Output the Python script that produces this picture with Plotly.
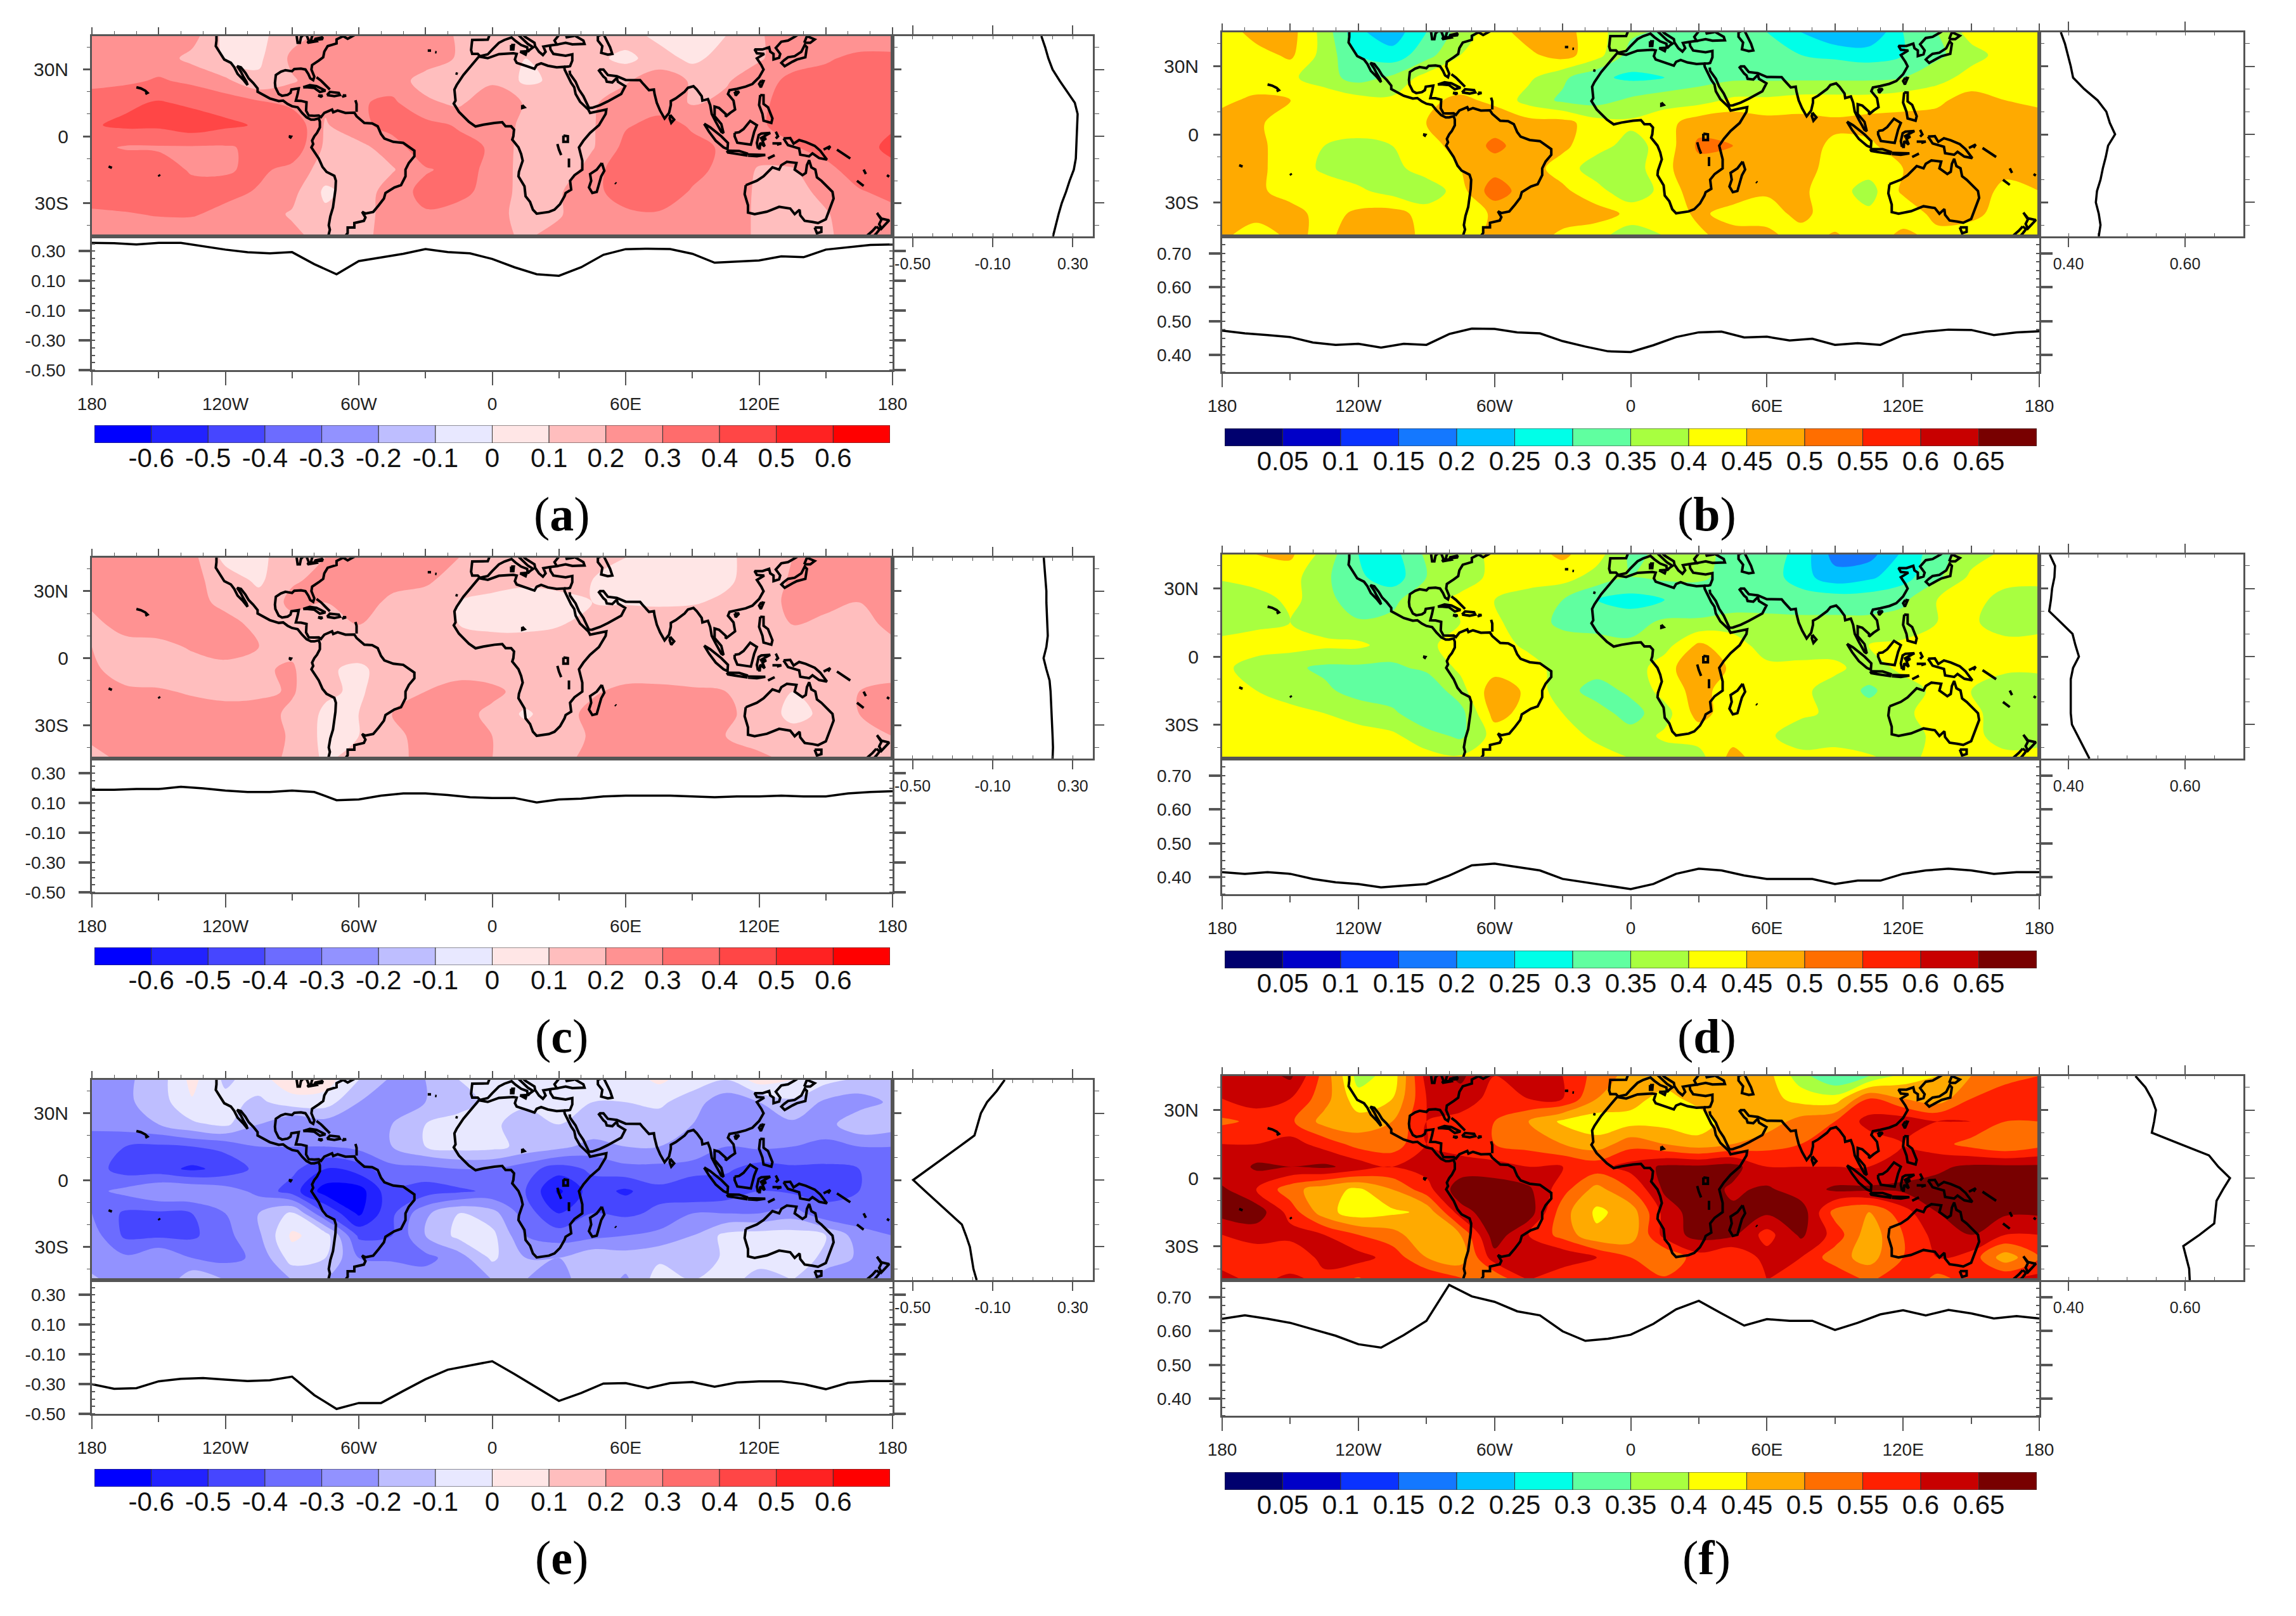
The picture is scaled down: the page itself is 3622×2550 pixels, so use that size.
"""Six-panel map figure: filled contours with zonal and meridional mean curves."""
import plotly.graph_objects as go

W, H = 3622, 2550

LONS = list(range(-180, 181, 15))
LATS = list(range(45, -46, -10))
LON_LINE = list(range(-180, 181, 10))
LAT_LINE = list(range(45, -46, -5))

BLUE_RED = ['#0000ff', '#2222ff', '#4646ff', '#6c6cff', '#9292ff', '#bebeff', '#e8e8ff',
            '#ffe6e6', '#ffbebe', '#ff9292', '#ff6c6c', '#ff4646', '#ff2222', '#ff0000']
JET = ['#00006e', '#0000c8', '#0a32ff', '#1478ff', '#00c0ff', '#00ffe8', '#60ffa0',
       '#a8ff40', '#ffff00', '#ffaa00', '#ff6e00', '#ff2000', '#c80000', '#780000']
LEVELS_DIFF = [-0.6, -0.5, -0.4, -0.3, -0.2, -0.1, 0, 0.1, 0.2, 0.3, 0.4, 0.5, 0.6]
LEVEL_LABELS_DIFF = ['-0.6', '-0.5', '-0.4', '-0.3', '-0.2', '-0.1', '0', '0.1', '0.2', '0.3', '0.4', '0.5', '0.6']
LEVELS_ABS = [0.05, 0.1, 0.15, 0.2, 0.25, 0.3, 0.35, 0.4, 0.45, 0.5, 0.55, 0.6, 0.65]
LEVEL_LABELS_ABS = ['0.05', '0.1', '0.15', '0.2', '0.25', '0.3', '0.35', '0.4', '0.45', '0.5', '0.55', '0.6', '0.65']

FIELD_A = [
    [.24, .24, .24, .24, .07, .07, .17, .22, .25, .25, .25, .19, .15, .15, .15, .15, .15, .07, .06, .1, .19, .25, .25, .25, .25],
    [.25, .25, .25, .17, .09, .08, .22, .24, .27, .27, .25, .19, .15, .1, .1, .13, .07, .15, .07, .15, .19, .25, .29, .32, .32],
    [.27, .28, .31, .28, .22, .12, .19, .25, .25, .25, .16, .17, .18, .08, .12, .17, .19, .25, .19, .19, .25, .33, .33, .34, .33],
    [.35, .38, .41, .38, .36, .32, .27, .22, .29, .32, .22, .18, .28, .19, .19, .19, .24, .26, .19, .22, .28, .34, .36, .37, .37],
    [.39, .42, .42, .46, .42, .39, .38, .19, .27, .34, .33, .29, .27, .17, .17, .19, .29, .33, .29, .25, .29, .33, .36, .38, .39],
    [.33, .29, .29, .29, .29, .32, .37, .18, .17, .25, .37, .33, .29, .15, .12, .19, .33, .36, .32, .29, .25, .29, .34, .37, .42],
    [.39, .38, .34, .29, .29, .32, .27, .15, .15, .19, .29, .33, .28, .15, .12, .25, .38, .39, .33, .27, .19, .19, .27, .35, .38],
    [.39, .38, .36, .33, .33, .29, .23, .08, .14, .25, .33, .33, .26, .16, .19, .27, .35, .36, .29, .27, .18, .16, .23, .29, .33],
    [.27, .29, .31, .31, .27, .24, .19, .12, .17, .23, .29, .26, .24, .16, .19, .27, .28, .29, .25, .23, .19, .15, .19, .27, .27],
    [.22, .22, .22, .23, .23, .23, .22, .17, .17, .24, .25, .23, .22, .19, .23, .23, .22, .23, .23, .23, .19, .18, .19, .23, .23],
]
FIELD_B = [
    [.42, .47, .47, .38, .26, .22, .3, .37, .43, .47, .47, .42, .36, .34, .34, .32, .3, .25, .2, .2, .3, .35, .42, .43, .43],
    [.42, .43, .46, .38, .3, .27, .33, .4, .42, .44, .47, .42, .33, .33, .33, .34, .32, .3, .29, .28, .3, .34, .38, .42, .43],
    [.42, .42, .41, .37, .33, .36, .42, .42, .42, .41, .36, .31, .29, .3, .33, .34, .34, .34, .34, .34, .35, .38, .42, .43, .43],
    [.44, .46, .45, .44, .42, .41, .44, .46, .44, .38, .34, .33, .36, .38, .38, .41, .41, .42, .42, .42, .43, .44, .47, .45, .44],
    [.47, .46, .42, .41, .42, .42, .45, .5, .48, .47, .47, .42, .41, .43, .48, .49, .47, .47, .46, .47, .47, .47, .47, .47, .47],
    [.47, .46, .43, .4, .39, .4, .43, .47, .51, .48, .46, .42, .38, .42, .51, .5, .47, .47, .44, .44, .48, .47, .47, .47, .47],
    [.47, .46, .43, .39, .37, .38, .43, .45, .48, .47, .43, .37, .37, .44, .48, .48, .47, .47, .43, .42, .45, .47, .47, .46, .46],
    [.45, .46, .43, .43, .41, .38, .36, .43, .53, .47, .46, .42, .36, .42, .48, .48, .46, .46, .42, .38, .46, .47, .47, .44, .45],
    [.46, .47, .47, .43, .46, .47, .43, .41, .46, .47, .47, .47, .44, .42, .46, .43, .42, .47, .41, .41, .41, .47, .47, .42, .42],
    [.46, .42, .46, .44, .47, .47, .44, .42, .47, .47, .44, .42, .36, .4, .44, .47, .47, .42, .46, .41, .47, .43, .41, .41, .42],
]
FIELD_C = [
    [.23, .23, .23, .23, .07, .07, .17, .2, .22, .22, .22, .2, .16, .15, .13, .14, .1, .07, .07, .08, .14, .2, .22, .24, .22],
    [.23, .23, .23, .23, .15, .08, .19, .22, .23, .23, .22, .15, .14, .12, .12, .1, .07, .07, .08, .08, .15, .21, .22, .24, .22],
    [.22, .24, .25, .24, .17, .14, .22, .2, .24, .18, .15, .1, .07, .06, .08, .1, .09, .08, .09, .12, .16, .22, .21, .2, .23],
    [.17, .24, .25, .25, .24, .17, .17, .19, .2, .17, .16, .1, .07, .07, .09, .17, .17, .18, .17, .17, .17, .2, .19, .17, .22],
    [.2, .16, .17, .21, .24, .2, .18, .15, .18, .17, .18, .17, .16, .16, .17, .17, .17, .17, .17, .17, .17, .17, .18, .18, .18],
    [.22, .15, .15, .16, .17, .19, .21, .12, .07, .17, .18, .18, .16, .17, .16, .16, .16, .16, .16, .16, .15, .16, .17, .17, .17],
    [.23, .22, .21, .19, .17, .18, .21, .12, .08, .18, .2, .22, .22, .17, .16, .19, .22, .22, .21, .2, .16, .1, .15, .2, .22],
    [.24, .24, .24, .24, .24, .24, .18, .08, .1, .2, .24, .23, .18, .08, .17, .22, .24, .24, .24, .22, .16, .07, .12, .2, .24],
    [.22, .24, .24, .24, .24, .24, .19, .07, .1, .17, .24, .23, .2, .16, .16, .21, .24, .24, .24, .2, .16, .14, .16, .16, .2],
    [.17, .22, .22, .22, .22, .22, .19, .08, .15, .18, .22, .23, .2, .18, .18, .22, .22, .22, .22, .22, .22, .18, .14, .12, .16],
]
FIELD_D = [
    [.41, .45, .46, .38, .3, .28, .36, .38, .41, .43, .46, .42, .34, .36, .36, .34, .33, .28, .18, .18, .26, .33, .38, .41, .41],
    [.41, .42, .42, .36, .31, .27, .35, .38, .41, .42, .42, .38, .35, .36, .36, .33, .33, .27, .22, .24, .28, .34, .41, .42, .42],
    [.35, .38, .41, .38, .3, .34, .38, .41, .4, .38, .35, .3, .28, .3, .31, .31, .32, .33, .33, .33, .34, .4, .42, .38, .37],
    [.37, .39, .4, .38, .36, .36, .37, .4, .41, .37, .34, .33, .33, .36, .36, .38, .37, .36, .36, .36, .37, .4, .41, .37, .38],
    [.42, .42, .42, .41, .41, .38, .39, .42, .42, .39, .37, .37, .36, .38, .46, .42, .38, .38, .38, .4, .41, .42, .42, .42, .42],
    [.41, .38, .36, .34, .34, .34, .36, .41, .43, .42, .38, .37, .37, .43, .49, .44, .41, .41, .41, .38, .41, .41, .41, .41, .41],
    [.41, .4, .37, .36, .33, .32, .31, .38, .48, .44, .37, .33, .36, .42, .47, .42, .41, .41, .38, .34, .38, .41, .4, .37, .37],
    [.43, .43, .42, .4, .38, .36, .31, .33, .47, .43, .4, .37, .33, .38, .47, .42, .42, .41, .39, .37, .39, .42, .41, .38, .37],
    [.43, .43, .43, .43, .42, .41, .37, .34, .42, .43, .42, .39, .37, .41, .42, .43, .41, .37, .38, .36, .38, .41, .42, .37, .37],
    [.44, .43, .43, .43, .43, .43, .42, .41, .43, .43, .43, .42, .4, .37, .38, .47, .42, .42, .42, .41, .38, .42, .42, .42, .43],
]
FIELD_E = [
    [-.2, -.22, -.15, .03, -.12, -.05, .08, .05, -.1, -.22, -.2, -.1, -.1, -.1, -.07, -.08, -.05, .02, -.05, -.1, .05, 0, -.07, -.12, -.15],
    [-.2, -.22, -.15, -.01, -.07, -.12, -.05, -.05, -.2, -.25, -.2, -.13, -.08, -.08, -.1, -.1, -.1, -.08, -.15, -.27, -.2, -.12, -.22, -.25, -.18],
    [-.27, -.25, -.2, -.12, -.08, -.2, -.3, -.25, -.25, -.2, -.1, -.07, -.08, -.15, -.1, -.12, -.18, -.15, -.2, -.3, -.22, -.22, -.24, -.12, -.15],
    [-.37, -.4, -.42, -.4, -.37, -.3, -.3, -.3, -.27, -.2, -.1, -.06, -.07, -.13, -.17, -.24, -.2, -.2, -.22, -.3, -.28, -.3, -.33, -.3, -.3],
    [-.35, -.45, -.46, -.52, -.47, -.37, -.37, -.5, -.45, -.33, -.33, -.3, -.3, -.36, -.45, -.38, -.33, -.33, -.35, -.38, -.45, -.42, -.42, -.4, -.37],
    [-.33, -.27, -.2, -.2, -.25, -.33, -.45, -.65, -.65, -.42, -.45, -.42, -.38, -.4, -.62, -.45, -.52, -.43, -.5, -.47, -.4, -.42, -.42, -.4, -.35],
    [-.3, -.42, -.42, -.4, -.3, -.2, -.08, -.4, -.62, -.42, -.22, -.1, -.16, -.35, -.5, -.4, -.42, -.38, -.3, -.3, -.3, -.25, -.38, -.38, -.4],
    [-.25, -.42, -.42, -.42, -.33, -.22, .02, -.05, -.42, -.4, -.2, -.07, -.07, -.3, -.35, -.33, -.3, -.27, -.2, -.07, -.05, -.05, -.1, -.25, -.3],
    [-.25, -.28, -.2, -.3, -.33, -.28, -.05, -.1, -.3, -.32, -.33, -.25, -.08, -.2, -.2, -.12, -.15, -.12, -.18, -.08, -.05, -.05, -.12, -.22, -.2],
    [-.18, -.25, -.3, -.12, -.2, -.25, -.2, -.2, -.23, -.2, -.25, -.25, -.2, -.2, -.25, -.12, -.22, -.05, -.1, -.05, -.15, -.1, -.28, -.25, -.2],
]
FIELD_F = [
    [.6, .62, .66, .53, .38, .42, .62, .66, .6, .64, .6, .53, .48, .48, .48, .47, .47, .37, .3, .35, .42, .45, .5, .52, .55],
    [.6, .63, .6, .52, .42, .45, .6, .63, .58, .6, .6, .5, .47, .43, .47, .5, .47, .43, .42, .55, .5, .47, .55, .6, .6],
    [.54, .56, .56, .48, .47, .5, .6, .58, .55, .5, .44, .42, .43, .43, .42, .48, .47, .52, .55, .62, .63, .6, .6, .55, .55],
    [.6, .6, .62, .58, .53, .52, .6, .58, .55, .53, .5, .47, .53, .5, .47, .5, .53, .55, .56, .57, .6, .57, .53, .5, .53],
    [.6, .66, .65, .66, .63, .6, .62, .62, .62, .6, .6, .58, .62, .66, .66, .67, .6, .6, .6, .6, .63, .64, .66, .66, .66],
    [.66, .6, .52, .47, .44, .5, .58, .68, .68, .66, .57, .48, .55, .66, .68, .64, .66, .62, .66, .66, .66, .67, .67, .67, .67],
    [.67, .68, .58, .47, .42, .44, .46, .63, .68, .68, .52, .44, .47, .62, .68, .66, .66, .68, .53, .5, .58, .65, .65, .66, .66],
    [.6, .62, .62, .6, .55, .52, .46, .5, .68, .6, .53, .46, .47, .62, .67, .66, .58, .66, .58, .47, .55, .62, .65, .6, .6],
    [.56, .57, .55, .62, .62, .58, .5, .47, .63, .6, .64, .6, .55, .5, .58, .55, .62, .6, .52, .48, .55, .6, .58, .47, .55],
    [.63, .58, .62, .58, .54, .6, .6, .56, .5, .6, .55, .57, .6, .56, .6, .56, .6, .58, .6, .54, .6, .53, .57, .6, .62],
]

# mean over latitude, one value per LON_LINE
LON_MEAN_A = [.356, .354, .346, .356, .356, .332, .311, .293, .286, .294, .213, .145, .234, .258, .283, .315, .294, .286, .248,
              .192, .145, .135, .192, .276, .314, .317, .315, .283, .223, .23, .238, .266, .26, .311, .325, .342, .346]
LON_MEAN_B = [.472, .464, .459, .453, .437, .43, .433, .422, .433, .43, .462, .478, .477, .467, .464, .441, .425, .411, .409,
              .429, .453, .467, .469, .452, .454, .443, .448, .43, .435, .43, .459, .469, .475, .474, .459, .467, .47]
LON_MEAN_C = [.19, .19, .195, .195, .21, .2, .185, .175, .175, .185, .175, .12, .125, .15, .165, .165, .155, .14, .135,
              .135, .105, .125, .13, .145, .15, .15, .15, .145, .14, .145, .145, .15, .145, .145, .165, .175, .18]
LON_MEAN_D = [.415, .41, .415, .41, .395, .385, .38, .37, .375, .38, .405, .435, .44, .43, .42, .395, .385, .375, .365,
              .38, .41, .425, .42, .405, .395, .395, .395, .38, .39, .39, .41, .42, .425, .42, .41, .415, .415]
LON_MEAN_E = [-.3, -.331, -.327, -.281, -.264, -.259, -.27, -.279, -.274, -.25, -.374, -.467, -.427, -.427, -.346, -.267, -.203, -.175, -.146,
              -.232, -.324, -.413, -.36, -.296, -.293, -.327, -.293, -.286, -.317, -.289, -.281, -.281, -.3, -.334, -.291, -.279, -.279]
LON_MEAN_F = [.636, .646, .636, .624, .605, .586, .561, .551, .588, .63, .736, .702, .686, .658, .646, .599, .571, .577, .589,
              .621, .664, .689, .652, .616, .635, .63, .63, .603, .624, .649, .661, .646, .662, .652, .637, .644, .637]

# mean over longitude, one value per LAT_LINE
LAT_MEAN_A = [.143, .162, .178, .199, .234, .273, .31, .324, .322, .32, .318, .315, .305, .284, .266, .245, .229, .215, .201]
LAT_MEAN_B = [.387, .394, .399, .404, .408, .427, .45, .465, .471, .48, .468, .464, .459, .455, .449, .447, .452, .455, .452]
LAT_MEAN_C = [.155, .16, .165, .168, .168, .171, .173, .175, .168, .154, .168, .184, .189, .192, .194, .196, .199, .201, .199]
LAT_MEAN_D = [.368, .377, .376, .372, .37, .367, .387, .407, .412, .418, .408, .404, .404, .404, .404, .406, .416, .427, .436]
LAT_MEAN_E = [-.04, -.08, -.128, -.159, -.175, -.191, -.267, -.344, -.42, -.497, -.437, -.376, -.314, -.254, -.233, -.214, -.205, -.196, -.18]
LAT_MEAN_F = [.515, .532, .543, .55, .547, .543, .592, .641, .657, .677, .665, .654, .652, .65, .625, .597, .602, .607, .608]

# simplified coastlines as (lon, lat) runs
COAST = [
    [(-124, 46), (-124, 43), (-124.3, 40.5), (-122.5, 37.5), (-120.5, 34.5), (-117.5, 33), (-116, 31), (-114.5, 28), (-112, 25.5), (-110, 23),
     (-110.5, 24.5), (-112, 27), (-113, 29), (-114.7, 31.5), (-113, 31), (-111, 28.5), (-109.5, 26), (-107.5, 24), (-105.5, 21.5), (-105.5, 20),
     (-103, 18.5), (-100, 17), (-96, 15.8), (-94, 16), (-92, 14.5), (-90, 13.5), (-87.5, 13), (-85.5, 10.5), (-83.5, 8.5), (-81.5, 7.5), (-80, 7.5),
     (-78, 8), (-77.5, 6.5), (-77.5, 4), (-78.8, 1.5), (-80, 0), (-81, -2), (-80.5, -3.5), (-81.3, -5), (-79.5, -7.5), (-78, -10), (-76.3, -13.8),
     (-74.5, -16), (-71, -17.8), (-70.3, -20), (-70.5, -24), (-71, -28), (-71.6, -32), (-72.8, -36), (-73.5, -40), (-73, -42), (-74, -45), (-74, -46)],
    [(-61, 46), (-65, 43.8), (-67, 45), (-70, 43.5), (-70, 41.7), (-74, 40.5), (-75.5, 38), (-76, 35.5), (-78, 34), (-81, 32), (-81.3, 30), (-80, 26.8),
     (-80.5, 25.2), (-81.8, 26), (-82.7, 28), (-84, 30), (-86, 30.4), (-89, 30.2), (-90, 29.2), (-93, 29.7), (-95, 29), (-97.3, 27.5), (-97.7, 24),
     (-97.5, 22), (-96, 19), (-94.5, 18.2), (-92, 18.6), (-90.7, 19.5), (-90.3, 21), (-87, 21.5), (-87.5, 19), (-88.3, 16), (-86, 15.9), (-83.5, 15.3),
     (-83.7, 11.5), (-82.5, 9.3), (-80, 9.2), (-78, 9.3), (-77, 8.6), (-75.5, 10.5), (-72, 12), (-71.5, 10.8), (-69.5, 11.6), (-66, 10.5), (-62, 10.6),
     (-61, 9), (-57.5, 6), (-54, 5.8), (-51.5, 4.5), (-50, 1), (-48.5, -1), (-44.5, -2.5), (-40, -3), (-37, -5), (-35, -6.5), (-35, -9), (-37.5, -12),
     (-39, -15), (-39, -18), (-41, -22), (-44, -23), (-48, -25.5), (-48.7, -28), (-51, -31), (-53.5, -34), (-57, -34.7), (-58.5, -34), (-57, -36.5),
     (-57.7, -38), (-62, -39), (-62, -41), (-65, -41), (-65, -43.5), (-67, -46)],
    [(-88, 45.5), (-87.5, 42), (-86.5, 42), (-86, 44.5), (-85, 45.5), (-83.5, 45.5), (-82.5, 43), (-83, 42), (-79, 42.7), (-79.5, 43.3), (-76.5, 43.7),
     (-76.2, 44.5), (-79.5, 43.8), (-80, 42.8), (-81.5, 43), (-81, 45), (-80, 46)],
    [(-85, 22), (-82, 23), (-79, 22.5), (-75, 20.5), (-77.5, 19.9), (-80, 21.7), (-83, 22), (-85, 22)],
    [(-74.3, 18.5), (-73, 19.9), (-69, 19.5), (-68.5, 18.5), (-71, 18), (-74.3, 18.5)],
    [(-78.3, 18.3), (-76.3, 18.2), (-77, 17.8), (-78.3, 18.3)],
    [(-67.2, 18.4), (-65.7, 18.3), (-67, 17.9), (-67.2, 18.4)],
    [(-79, 26.5), (-77, 25), (-75, 23), (-73, 21)],
    [(-61.5, 16.2), (-61, 14.5), (-61, 11)],
    [(-160, 22), (-158, 21.5), (-156, 20.5), (-155, 19.5), (-156, 19)],
    [(-91.5, 0), (-90.5, -0.2), (-91, -1)],
    [(-172.5, -13.6), (-171, -14.2)],
    [(-150, -17.3), (-149.5, -18)],
    [(-29, 38.5), (-27.5, 38.5)],
    [(-25.7, 37.8), (-25, 37.7)],
    [(-16.5, 28.3), (-15.5, 28)],
    [(-6, 35.8), (-10, 31), (-13, 27.5), (-16, 23), (-17, 21), (-16.5, 16), (-17.3, 14.7), (-15, 11), (-13, 9), (-10.5, 6.5), (-7.5, 4.4), (-4, 5.2),
     (1, 6), (4.5, 6.3), (6, 4.5), (8.5, 4.5), (9.8, 3), (9.5, 0), (9, -1.5), (11.8, -5), (13, -8), (13.7, -11), (12, -16), (11.8, -18), (14.5, -22.5),
     (15, -27), (17, -29.5), (18.3, -33), (20, -34.8), (25.5, -34), (28, -33), (30.5, -30.5), (32.5, -27), (33, -25.5), (35.5, -24), (35, -20),
     (37, -17.5), (40.5, -15), (40.5, -11), (39.5, -7), (39, -5), (41, -2), (44, 1.5), (48, 5), (51, 10), (51.3, 12), (47, 11), (44, 10.5), (43.2, 12),
     (39.5, 15.5), (37.5, 19), (36.9, 22), (35.5, 24), (33.8, 27.5), (32.6, 29.9), (32.4, 31.2), (29, 31), (25, 31.7), (22, 32.8), (20, 32), (19, 30.3),
     (15.5, 31.5), (11, 33), (10.2, 34.5), (11, 37), (9.5, 37.3), (3, 36.9), (-2, 35.1), (-6, 35.8)],
    [(-1, 46), (-2, 43.4), (-9, 43.3), (-9.5, 38.7), (-9, 37), (-6.5, 37), (-5.5, 36), (-2, 36.8), (0, 39), (3, 42), (5.5, 43.3), (8.7, 44.4), (10.5, 42.8),
     (13, 41), (15.7, 40), (16, 38), (17, 39), (18.4, 40), (16, 41.5), (13.7, 43.5), (12.3, 45), (13.6, 45.8), (15, 44.5), (19, 42), (19.3, 40.5), (21, 38),
     (22.8, 36.5), (24, 38), (23, 40.3), (26, 40.8), (29, 41.2), (28, 43), (30, 45.5), (33, 46), (33.5, 44.5), (36.5, 45), (38, 47)],
    [(29, 41.2), (33, 42), (36, 41.3), (41.5, 41.5), (41, 43), (37.5, 45), (38, 46)],
    [(26, 40.4), (26.2, 39), (27.5, 37), (30.5, 36.5), (33, 36.2), (36, 36.8), (36, 34), (35, 31.5), (34.2, 31.3), (32.4, 31.2)],
    [(8.5, 41), (9.7, 41), (9.5, 39), (8.5, 39), (8.5, 41)],
    [(12.5, 38), (15.5, 38.2), (15, 36.7), (12.5, 38)],
    [(47.5, 45), (47.5, 43), (49.5, 40.5), (49, 37.5), (52, 36.7), (54, 37), (53, 40), (51, 44.5), (50, 46), (47.5, 45)],
    [(34.8, 29.5), (35, 28), (37.5, 24.5), (39, 21), (41, 18), (43, 14), (43.5, 12.7), (45, 12.8), (48.5, 14), (52, 15.7), (55, 17.2), (58, 19), (59.8, 22.5),
     (56.5, 24.5), (56, 26.2), (54, 24.2), (51.5, 24.5), (51, 26), (50, 26.8), (48, 29.5), (48.5, 30), (50, 30), (52, 27.5), (56, 27), (60, 25.3), (66.5, 25.2),
     (67.5, 24), (69, 22.5), (70.5, 20.7), (72.7, 21), (73, 19), (74, 15), (75.5, 11.5), (77.5, 8), (79.5, 10.5), (80.3, 14), (80.3, 15.8), (82.5, 17), (86.5, 20),
     (88, 21.8), (90.5, 22.5), (92, 21), (94.2, 18), (94.5, 16), (97, 16.7), (98, 14), (98.7, 10), (100.5, 6.5), (103, 2), (104, 1.4), (103.5, 4), (103, 5.5),
     (100, 9), (100, 13.3), (102, 12.7), (105, 10), (105, 8.8), (107, 10.5), (109.2, 12), (108.5, 16), (106, 19), (106.7, 20.7), (110, 21.3), (114, 22.3),
     (117, 23.5), (120, 26.5), (122, 30), (121, 32), (119, 35), (122.3, 37), (119, 37.3), (118, 39), (121.5, 39), (124.5, 40), (125, 38), (126.5, 37),
     (126.5, 34.5), (129, 35.3), (129.5, 37), (127.5, 39.7), (130, 42.5), (133, 43), (136, 44.7), (138, 46)],
    [(80, 9.6), (81.8, 7.5), (80.5, 6), (79.8, 8), (80, 9.6)],
    [(109, 20), (111, 20), (109.5, 18.3), (109, 20)],
    [(131, 34), (133, 35.5), (136, 36), (139, 38), (140.5, 41), (141.5, 40), (140.8, 35.5), (137, 34.5), (135, 33.5), (131.5, 31.5), (130, 33), (131, 34)],
    [(140.3, 42), (141.5, 45), (145, 43.5), (143, 42), (141, 42), (140.3, 42)],
    [(121, 25), (122, 24.8), (120.8, 22), (120, 23.5), (121, 25)],
    [(120.5, 18.5), (122, 18.4), (122, 14.5), (124, 13), (126, 8), (125.5, 6), (122, 7), (121.5, 10), (120, 14), (120.5, 18.5)],
    [(109, 1.5), (111, 1.8), (113, 3.2), (116, 6.9), (119, 5), (117.8, 2), (116.3, -3.8), (114, -3.4), (110.2, -2.9), (109, 0), (109, 1.5)],
    [(95.3, 5.6), (98, 4), (103, 0), (106, -3), (105.8, -5.8), (104, -5), (100.5, -2), (97.5, 2), (95.3, 5.6)],
    [(105.5, -6.5), (108.5, -6.5), (111, -6.6), (114.5, -7.7), (114.3, -8.6), (109, -7.8), (106, -7.3), (105.5, -6.5)],
    [(115, -8.2), (119, -8.4), (122.8, -8.4), (119, -9), (115, -8.7)],
    [(119.5, -5.5), (119, -3), (119.8, 0.5), (121, 1.2), (125, 1.5), (122, 0), (120.5, -1), (123.2, -1), (121.5, -2), (122.5, -4.5), (120.5, -3), (120.3, -5.5), (119.5, -5.5)],
    [(127.5, 2), (128.5, 0), (127.5, -1)],
    [(126, -3.2), (130, -3.2), (128, -3.8)],
    [(131, -1), (134, -0.8), (135.5, -3.3), (138, -1.7), (141, -2.6), (145, -4.3), (147.5, -6.5), (150.5, -10.5), (147, -9.8), (144, -7.7), (142.5, -9), (138.5, -8.3),
     (138, -5.5), (133, -4), (132, -2.5), (131, -1)],
    [(124, -10), (127, -8.5), (125, -9.2), (124, -10)],
    [(149, -6), (152, -4.5), (151, -6)],
    [(155, -6), (158, -8), (161, -10)],
    [(167, -15), (168, -17)],
    [(164, -20), (167, -22.3)],
    [(177.5, -17.5), (178.5, -18.2)],
    [(114, -22), (113.5, -26), (115, -31), (115, -34.3), (118, -35), (123.5, -33.9), (129, -31.7), (134, -32.5), (136, -35), (138.2, -33), (138.5, -35.5), (140.5, -38),
     (144, -38.5), (146.5, -39), (150, -37.3), (151.5, -33), (153.5, -28), (153, -25), (150.5, -22.5), (148, -20), (146, -18.5), (145.3, -15), (143.5, -14), (142.5, -10.8),
     (141.5, -13), (141, -16.5), (139.5, -17.5), (136, -15), (136.8, -12), (132.5, -11.5), (130, -13), (129, -15), (126, -14), (122, -18), (119, -20), (114, -22)],
    [(145, -41), (148, -41), (148, -43), (146, -43.6), (145, -41)],
    [(173, -34.5), (175, -37), (178.5, -37.8), (177, -39.5), (175, -41.5), (174, -39.5), (175, -37.5), (173, -34.5)],
    [(172.7, -40.6), (174.2, -41.8), (172.7, -43.7), (170.5, -46), (167, -46), (171, -42.5), (172.7, -40.6)],
    [(49.3, -12), (50.4, -15.5), (49, -18), (47.5, -24), (47, -25), (45, -25.5), (43.5, -23), (44.5, -20), (44, -17), (47, -15), (49.3, -12)],
    [(55.3, -20.9), (55.7, -21.3)],
    [(13.5, 14), (14.5, 13), (13.5, 12.7), (13.5, 14)],
    [(32, 0.3), (34, 0), (34, -2.5), (32, -2.5), (32, 0.3)],
    [(29.3, -3.5), (30, -6), (31, -8.5)],
    [(34.5, -10), (34.5, -14)],
]

PANELS = [
    dict(field=FIELD_A, lon_mean=LON_MEAN_A, lat_mean=LAT_MEAN_A, kind='diff', col=0, top=57, bot=373, tag='a'),
    dict(field=FIELD_B, lon_mean=LON_MEAN_B, lat_mean=LAT_MEAN_B, kind='abs', col=1, top=51, bot=373, tag='b'),
    dict(field=FIELD_C, lon_mean=LON_MEAN_C, lat_mean=LAT_MEAN_C, kind='diff', col=0, top=880, bot=1197, tag='c'),
    dict(field=FIELD_D, lon_mean=LON_MEAN_D, lat_mean=LAT_MEAN_D, kind='abs', col=1, top=875, bot=1197, tag='d'),
    dict(field=FIELD_E, lon_mean=LON_MEAN_E, lat_mean=LAT_MEAN_E, kind='diff', col=0, top=1704, bot=2020, tag='e'),
    dict(field=FIELD_F, lon_mean=LON_MEAN_F, lat_mean=LAT_MEAN_F, kind='abs', col=1, top=1698, bot=2020, tag='f'),
]

COLS = [
    dict(x0=145, x1=1408, side=1724, line_h=211, cb_x0=149, cb_x1=1404, cb_dy=298, label_x=886, y_standoff=15),
    dict(x0=1928, x1=3217, side=3539, line_h=214, cb_x0=1932, cb_x1=3213, cb_dy=303, label_x=2692, y_standoff=22),
]
KINDS = {
    'diff': dict(colors=BLUE_RED, levels=LEVELS_DIFF, labels=LEVEL_LABELS_DIFF, line_range=[-0.5, 0.4], line_ticks=[-0.5, -0.3, -0.1, 0.1, 0.3],
                 line_minor=0.05, side_range=[-0.6, 0.4], side_ticks=[-0.5, -0.1, 0.3], side_minor=0.1),
    'abs': dict(colors=JET, levels=LEVELS_ABS, labels=LEVEL_LABELS_ABS, line_range=[0.35, 0.75], line_ticks=[0.4, 0.5, 0.6, 0.7],
                line_minor=0.025, side_range=[0.35, 0.70], side_ticks=[0.4, 0.6], side_minor=0.05),
}

AXIS_COLOR = '#555555'
FONT = 'Liberation Sans'


def fill_scale(colors):
    # band k of a filled contour lands on stop k/n
    n = len(colors) - 1
    return [[k / n, col] for k, col in enumerate(colors)]


def steps(lo, hi, step):
    out, v = [], lo
    while v <= hi + 1e-9:
        out.append(round(v, 4))
        v += step
    return out


def coast_xy():
    xs, ys = [], []
    for run in COAST:
        for lon, lat in run:
            xs.append(lon)
            ys.append(lat)
        xs.append(None)
        ys.append(None)
    return xs, ys


def dom_x(a, b):
    return [a / W, b / W]


def dom_y(top, bottom):
    return [1 - bottom / H, 1 - top / H]


fig = go.Figure()
layout = {}
coast_x, coast_y = coast_xy()
n_axis = 0


def new_axes(xdom, ydom, xaxis, yaxis):
    global n_axis
    n_axis += 1
    xa, ya = f'x{n_axis}', f'y{n_axis}'
    layout[f'xaxis{n_axis}'] = dict(domain=xdom, anchor=ya, automargin=False, **xaxis)
    layout[f'yaxis{n_axis}'] = dict(domain=ydom, anchor=xa, automargin=False, **yaxis)
    return xa, ya


LINE_STYLE = dict(showline=True, linecolor=AXIS_COLOR, linewidth=3, showgrid=False, zeroline=False,
                  tickcolor=AXIS_COLOR, color='#222222')

for p in PANELS:
    c = COLS[p['col']]
    k = KINDS[p['kind']]
    line_bot = p['bot'] + c['line_h']
    step = k['levels'][1] - k['levels'][0]

    # map
    xa, ya = new_axes(
        dom_x(c['x0'], c['x1']), dom_y(p['top'], p['bot']),
        dict(range=[-180, 180], side='top', mirror=True, showticklabels=False, ticks='outside', ticklen=11, tickwidth=2,
             tickmode='array', tickvals=steps(-180, 180, 30),
             minor=dict(ticks='outside', ticklen=5, tickwidth=1, tickcolor=AXIS_COLOR, tickmode='array', tickvals=steps(-180, 180, 10)),
             **LINE_STYLE),
        dict(range=[-45, 45], mirror='ticks', ticks='outside', ticklen=11, tickwidth=3, tickmode='array',
             tickvals=[-30, 0, 30], ticktext=['30S', '0', '30N'], tickfont=dict(family=FONT, size=30), ticklabelstandoff=17,
             minor=dict(ticks='outside', ticklen=5, tickwidth=1, tickcolor=AXIS_COLOR, tickmode='array', tickvals=steps(-40, 40, 10)),
             **LINE_STYLE),
    )
    fig.add_trace(go.Contour(
        x=LONS, y=LATS[::-1], z=p['field'][::-1], xaxis=xa, yaxis=ya,
        autocontour=False, colorscale=fill_scale(k['colors']), showscale=False,
        # nudged so that values typed on a level fall in the band above it
        contours=dict(start=k['levels'][0] - 1e-4, end=k['levels'][-1] - 1e-4, size=step,
                      coloring='fill', showlines=False),
        line=dict(width=0), hoverinfo='skip',
    ))
    fig.add_trace(go.Scatter(x=coast_x, y=coast_y, xaxis=xa, yaxis=ya, mode='lines',
                             line=dict(color='black', width=4), hoverinfo='skip'))

    # zonal curve under the map
    xa, ya = new_axes(
        dom_x(c['x0'], c['x1']), dom_y(p['bot'], line_bot),
        dict(range=[-180, 180], mirror=True, ticks='outside', ticklen=21, tickwidth=2, tickmode='array',
             tickvals=[-180, -120, -60, 0, 60, 120, 180], ticktext=['180', '120W', '60W', '0', '60E', '120E', '180'],
             tickfont=dict(family=FONT, size=28), ticklabelstandoff=5,
             minor=dict(ticks='outside', ticklen=10, tickwidth=2, tickcolor=AXIS_COLOR, tickmode='array', tickvals=steps(-150, 150, 30)),
             **LINE_STYLE),
        dict(range=k['line_range'], mirror='ticks', ticks='outside', ticklen=18, tickwidth=4, tickmode='array',
             tickvals=k['line_ticks'], ticktext=[f'{v:.2f}' for v in k['line_ticks']],
             tickfont=dict(family=FONT, size=28), ticklabelstandoff=c['y_standoff'],
             minor=dict(ticks='inside', ticklen=5, tickwidth=2, tickcolor=AXIS_COLOR, tickmode='array',
                        tickvals=steps(k['line_range'][0], k['line_range'][1], k['line_minor'])),
             **LINE_STYLE),
    )
    fig.add_trace(go.Scatter(x=LON_LINE, y=p['lon_mean'], xaxis=xa, yaxis=ya, mode='lines',
                             line=dict(color='black', width=3.5), hoverinfo='skip'))

    # meridional curve beside the map
    xa, ya = new_axes(
        dom_x(c['x1'], c['side']), dom_y(p['top'], p['bot']),
        dict(range=k['side_range'], mirror='ticks', ticks='outside', ticklen=14, tickwidth=2, tickmode='array',
             tickvals=k['side_ticks'], ticktext=[f'{v:.2f}' for v in k['side_ticks']],
             tickfont=dict(family=FONT, size=25), ticklabelstandoff=5,
             minor=dict(ticks='inside', ticklen=5, tickwidth=1, tickcolor=AXIS_COLOR, tickmode='array',
                        tickvals=steps(k['side_range'][0], k['side_range'][1], k['side_minor'])),
             **LINE_STYLE),
        dict(range=[-45, 45], side='right', mirror=True, showticklabels=False, ticks='outside', ticklen=15, tickwidth=2,
             tickmode='array', tickvals=[-30, 0, 30],
             minor=dict(ticks='outside', ticklen=7, tickwidth=1, tickcolor=AXIS_COLOR, tickmode='array', tickvals=steps(-40, 40, 10)),
             **LINE_STYLE),
    )
    fig.add_trace(go.Scatter(x=p['lat_mean'], y=LAT_LINE, xaxis=xa, yaxis=ya, mode='lines',
                             line=dict(color='black', width=3.5), hoverinfo='skip'))

    # label bar
    band_mid = [k['levels'][0] - step / 2] + [v + step / 2 for v in k['levels']]
    xa, ya = new_axes(
        dom_x(c['cb_x0'], c['cb_x1']), dom_y(p['bot'] + c['cb_dy'], p['bot'] + c['cb_dy'] + 28),
        dict(range=[k['levels'][0] - step, k['levels'][-1] + step], tickmode='array', tickvals=k['levels'], ticktext=k['labels'],
             ticks='', showline=False, showgrid=False, zeroline=False, tickfont=dict(family=FONT, size=42, color='#111111'), ticklabelstandoff=-5),
        dict(range=[0, 1], visible=False),
    )
    fig.add_trace(go.Bar(x=band_mid, y=[1] * len(band_mid), width=step, xaxis=xa, yaxis=ya,
                         marker=dict(color=k['colors'], line=dict(color='#333333', width=1)), hoverinfo='skip'))

    layout.setdefault('annotations', []).append(dict(
        text=f"(<b>{p['tag']}</b>)", xref='paper', yref='paper', x=c['label_x'] / W, y=1 - (p['bot'] + 438) / H,
        xanchor='center', yanchor='middle', showarrow=False, font=dict(family='Liberation Serif', size=76, color='black'),
    ))

fig.update_layout(width=W, height=H, margin=dict(l=0, r=0, t=0, b=0, pad=0, autoexpand=False), showlegend=False, barmode='overlay',
                  paper_bgcolor='white', plot_bgcolor='white', **layout)
fig.write_html("out.html", post_script="document.body.style.margin='0';", config=dict(displayModeBar=False))
